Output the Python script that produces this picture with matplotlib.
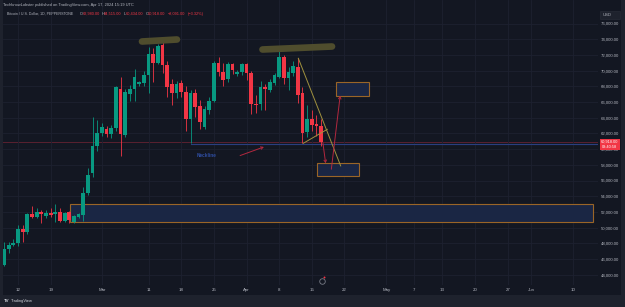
import matplotlib
matplotlib.use("Agg")
import matplotlib.pyplot as plt
import matplotlib.dates as mdates
import pandas as pd
from matplotlib.patches import Rectangle, FancyArrowPatch

plt.rcParams['font.family'] = ['Liberation Sans', 'DejaVu Sans']

# daily candles, BTCUSD (PEPPERSTONE)
dates = pd.date_range("2024-02-09", "2024-04-17", freq="D")
opens = [45240, 47300, 47780, 48080, 49780, 49420, 51730, 51310, 52000, 51450,
         51800, 51730, 51950, 50840, 51950, 50710, 51390, 51600, 54370, 56990,
         60400, 62010, 62520, 61880, 62730, 67610, 61800, 66990, 67610, 68250,
         68380, 69440, 72110, 71010, 73260, 70710, 68290, 67110, 68380, 67310,
         63800, 67110, 65490, 62850, 64980, 66170, 71010, 69860, 68890, 70800,
         69530, 69780, 70800, 69730, 65745, 65700, 67950, 67530, 68380, 69220,
         71770, 69020, 69730, 70500, 67110, 62220, 63800, 63200, 62940]
highs = [48200, 48200, 48500, 50330, 50330, 51900, 52800, 52540, 52200, 52200,
         52530, 52970, 52460, 52050, 52100, 51600, 51900, 55210, 57550, 64050,
         63710, 63290, 62900, 63100, 68000, 69220, 67600, 68200, 70170, 68700,
         69990, 72970, 72900, 73400, 73680, 71200, 68900, 68700, 68800, 68000,
         67500, 67700, 66300, 65500, 66600, 71200, 71700, 71000, 71100, 71000,
         70100, 71000, 71000, 69900, 66900, 68700, 68300, 68900, 69700, 72620,
         72000, 70500, 71200, 71570, 67900, 65620, 65000, 64400, 63800]
lows = [45050, 46800, 47600, 47650, 48200, 49150, 51200, 51180, 50620, 51180,
        51310, 50750, 50650, 50700, 50630, 50550, 51200, 50880, 54200, 56480,
        59800, 61670, 61580, 61400, 62300, 59120, 61500, 66160, 66160, 68000,
        68100, 67110, 68590, 70800, 69660, 66700, 65600, 66500, 66600, 62300,
        60820, 64100, 62600, 62600, 64500, 66000, 69300, 68000, 68600, 69600,
        69300, 69500, 68800, 64500, 64560, 65000, 65000, 67300, 68200, 69000,
        68300, 67530, 69300, 65900, 60740, 61580, 62300, 61700, 60434]
closes = [47300, 47780, 48080, 49780, 49420, 51730, 51310, 52000, 51730, 51800,
          51650, 52000, 50800, 51820, 50970, 51440, 51730, 54370, 56700, 60400,
          62090, 62850, 61880, 62730, 67870, 61920, 67270, 67650, 69220, 68590,
          69440, 72110, 71010, 73130, 70710, 67870, 67110, 68290, 67310, 63800,
          67110, 65400, 63410, 65110, 66130, 71010, 69780, 68800, 70800, 70080,
          69860, 70800, 69730, 65745, 65620, 67950, 67650, 68590, 69440, 71770,
          69020, 69860, 70590, 66890, 62090, 63800, 63070, 62940, 60918]

price_ticks = list(range(44000, 77000, 2000))
time_ticks = ["2024-02-12", "2024-02-19", "2024-03-01", "2024-03-11", "2024-03-18",
              "2024-03-25", "2024-04-01", "2024-04-08", "2024-04-15", "2024-04-22",
              "2024-05-01", "2024-05-07", "2024-05-13", "2024-05-20", "2024-05-27",
              "2024-06-01", "2024-06-10"]
time_labels = ["12", "19", "Mar", "11", "18", "25", "Apr", "8", "15", "22",
               "May", "7", "13", "20", "27", "Jun", "10"]
last_price = 60918

# drawings on the chart
box_big = ("2024-02-23 05:00", "2024-06-14 05:00", 50675, 52968)
box_low = ("2024-04-16 04:00", "2024-04-25 04:00", 56573, 58267)
box_up = ("2024-04-20 03:00", "2024-04-27 05:00", 66802, 68509)
marker_tops = [(("2024-03-09 14:00", 73707), ("2024-03-17 02:00", 73962)),
               (("2024-04-04 10:00", 72688), ("2024-04-19 08:00", 73070))]
wedge = [(("2024-04-12 02:30", 71567), ("2024-04-21 04:30", 57862)),
         (("2024-04-13 04:00", 60739), ("2024-04-18 07:40", 62522))]
arrows = [(("2024-03-30 01:30", 59057), ("2024-04-05 06:45", 60395)),
          (("2024-04-17 07:00", 61159), ("2024-04-18 01:00", 57847)),
          (("2024-04-19 02:40", 57083), ("2024-04-21 03:30", 67146))]
neckline = ("2024-03-20 02:00", 60713)

BG = "#131722"
UP, DOWN = "#089981", "#f23645"
TXT = "#b2b5be"
W, H = 625, 307


def t(s):
    return mdates.date2num(pd.Timestamp(s))


fig = plt.figure(figsize=(6.25, 3.07), dpi=100, facecolor="#1e222d")
fig.add_artist(Rectangle((3 / W, 1 - 294.5 / H), 618 / W, 294.5 / H,
                         transform=fig.transFigure, facecolor=BG,
                         edgecolor="none", zorder=0))
ax = fig.add_axes([3 / W, 1 - 285 / H, 595 / W, 285 / H])
ax.set_facecolor(BG)

x = mdates.date2num(dates)
for xi, o, h, l, c in zip(x, opens, highs, lows, closes):
    col = UP if c >= o else DOWN
    ax.vlines(xi, l, h, color=col, lw=0.6, zorder=3)
    lo, hi = min(o, c), max(o, c)
    ax.bar(xi, max(hi - lo, 60), bottom=lo, width=0.8, color=col,
           edgecolor="none", zorder=4)

base = t("2024-02-12")
ax.set_xlim(base - 3.216, base + 124.36)
ax.set_ylim(42688, 78994)

ax.set_xticks([t(d) for d in time_ticks])
ax.set_xticklabels(time_labels)
ax.set_yticks(price_ticks)
ax.set_yticklabels([f"{p:,.2f}" for p in price_ticks])
ax.yaxis.tick_right()
ax.tick_params(axis="x", length=0, pad=2.2, labelsize=3.2, labelcolor=TXT)
ax.tick_params(axis="y", length=0, pad=2.0, labelsize=3.1, labelcolor=TXT)
ax.grid(True, color="#1d2130", lw=0.6, zorder=0)
for s in ax.spines.values():
    s.set_visible(False)

# boxes
for x0, x1, y0, y1 in (box_big, box_low, box_up):
    ax.add_patch(Rectangle((t(x0), y0), t(x1) - t(x0), y1 - y0,
                           facecolor="#1a2644", edgecolor="#9a6527",
                           lw=0.8, zorder=2))

# highlighter strokes on the tops
for (a, pa), (b, pb) in marker_tops:
    ax.plot([t(a), t(b)], [pa, pb], color="#4f4d2d", lw=4.8,
            solid_capstyle="round", zorder=5)

# wedge lines
for (a, pa), (b, pb) in wedge:
    ax.plot([t(a), t(b)], [pa, pb], color="#a0913e", lw=0.7, zorder=5)

# last price line + neckline
ax.axhline(last_price, color="#5a2130", lw=0.7, zorder=1)
ax.plot([t(neckline[0]), ax.get_xlim()[1]], [neckline[1]] * 2,
        color="#2a3f80", lw=0.8, zorder=2)
ax.text(t("2024-03-21 09:00"), 59248, "Neckline", color="#2f4ea3",
        fontsize=3.4, fontweight="bold", va="center", ha="left", zorder=5)

for (a, pa), (b, pb) in arrows:
    ax.add_patch(FancyArrowPatch((t(a), pa), (t(b), pb),
                                 arrowstyle="->,head_length=1.6,head_width=0.9",
                                 color="#b3283f", lw=0.7, zorder=6))

# events icon
ax.plot(t("2024-04-17 02:40"), 43235, marker="o", ms=4, mfc="none",
        mec="#787b86", mew=0.6, clip_on=False, zorder=6)
ax.plot(t("2024-04-17 14:00"), 43700, marker="o", ms=1.4, mfc=DOWN,
        mec="none", clip_on=False, zorder=7)

# last price tag
fig.add_artist(Rectangle((600 / W, 1 - 149.5 / H), 19.5 / W, 10.5 / H,
                         transform=fig.transFigure, facecolor=DOWN,
                         edgecolor="none", zorder=5))
fig.text(609.7 / W, 1 - 142 / H, f"{last_price:,.2f}", color="white",
         fontsize=2.8, ha="center", va="center", zorder=6)
fig.text(609.7 / W, 1 - 146.8 / H, "08:40:58", color="white",
         fontsize=2.8, ha="center", va="center", zorder=6)

# currency box
fig.add_artist(Rectangle((600 / W, 1 - 19 / H), 20 / W, 8 / H,
                         transform=fig.transFigure, facecolor="#1e222d",
                         edgecolor="#2a2e39", lw=0.4, zorder=5))
fig.text(603 / W, 1 - 15 / H, "USD", color=TXT, fontsize=3.0,
         ha="left", va="center", zorder=6)

# header
fig.text(3 / W, 1 - 5 / H,
         "TechknowLobster published on TradingView.com, Apr 17, 2024 15:19 UTC",
         color=TXT, fontsize=2.9, ha="left", va="center")
fig.text(6.7 / W, 1 - 14 / H, "Bitcoin / U.S. Dollar, 1D, PEPPERSTONE",
         color=TXT, fontsize=2.65, ha="left", va="center")
legend_parts = [("O", 80), ("62,980.00", 82.7), ("H", 101.7), ("64,515.00", 104),
                ("L", 123.3), ("60,434.00", 126), ("C", 145.7), ("60,918.00", 148),
                ("\u22122,091.00", 168), ("(\u22123.32%)", 188)]
for s, px in legend_parts:
    col = TXT if s in ("O", "H", "L", "C") else DOWN
    fig.text(px / W, 1 - 14 / H, s, color=col, fontsize=2.75,
             ha="left", va="center")

# footer logo
fig.text(3.5 / W, 1 - 301 / H, "TV", color="#d1d4dc", fontsize=3.2,
         fontweight="bold", ha="left", va="center")
fig.text(10.5 / W, 1 - 301 / H, "TradingView", color="#d1d4dc", fontsize=2.9,
         ha="left", va="center")

fig.savefig("out.png", dpi=100, facecolor=fig.get_facecolor())
